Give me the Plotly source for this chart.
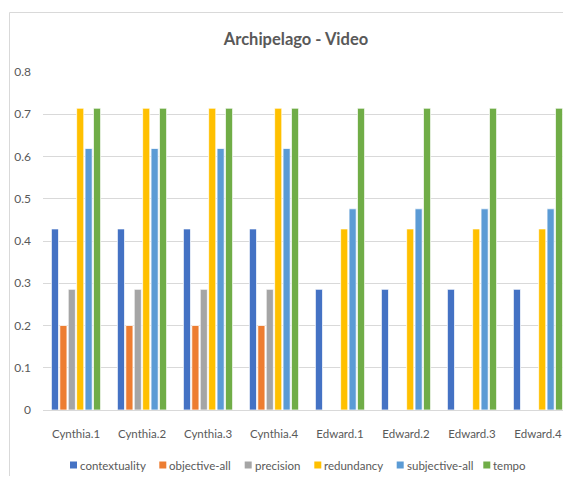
import plotly.graph_objects as go

# ---- data ----
categories = ["Cynthia.1", "Cynthia.2", "Cynthia.3", "Cynthia.4",
              "Edward.1", "Edward.2", "Edward.3", "Edward.4"]
series_names = ["contextuality", "objective-all", "precision",
                "redundancy", "subjective-all", "tempo"]
contextuality = [0.4286, 0.4286, 0.4286, 0.4286, 0.2857, 0.2857, 0.2857, 0.2857]
objective_all = [0.2, 0.2, 0.2, 0.2, 0, 0, 0, 0]
precision = [0.2857, 0.2857, 0.2857, 0.2857, 0, 0, 0, 0]
redundancy = [0.7143, 0.7143, 0.7143, 0.7143, 0.4286, 0.4286, 0.4286, 0.4286]
subjective_all = [0.619, 0.619, 0.619, 0.619, 0.4762, 0.4762, 0.4762, 0.4762]
tempo = [0.7143, 0.7143, 0.7143, 0.7143, 0.7143, 0.7143, 0.7143, 0.7143]
y_ticks = [0, 0.1, 0.2, 0.3, 0.4, 0.5, 0.6, 0.7, 0.8]
y_tick_labels = ["0", "0.1", "0.2", "0.3", "0.4", "0.5", "0.6", "0.7", "0.8"]

# ---- style ----
colors = ["#4472C4", "#ED7D31", "#A5A5A5", "#FFC000", "#5B9BD5", "#70AD47"]
FONT = "Lato, sans-serif"
TXT = "#595959"
GRID = "#D9D9D9"

OFF = 8  # page body margin
W, H = 571 - OFF, 484 - 2 * OFF
# plot area in page pixels: x 43..571, y 72..410
ML = 43 - OFF
MR = 0
MT = 72 - OFF
MB = H - (410 - OFF)
PW = W - ML - MR
PH = H - MT - MB


def px2x(px):
    # page pixel -> paper x
    return (px - OFF - ML) / PW


def py2y(py):
    # page pixel -> paper y
    return (H - MB - (py - OFF)) / PH


values = [contextuality, objective_all, precision, redundancy, subjective_all, tempo]

fig = go.Figure()
for name, vals, col in zip(series_names, values, colors):
    fig.add_trace(go.Bar(
        x=categories, y=vals, name=name,
        marker=dict(color=col, line=dict(color="white", width=0.75)),
        showlegend=False,
    ))

# manual legend (positions in page pixels)
legend_sq_px = [70, 159.3, 244.7, 314.3, 396.7, 483.3]
legend_y_px = 465
shapes = []
annotations = []
for name, col, sx in zip(series_names, colors, legend_sq_px):
    shapes.append(dict(type="rect", xref="paper", yref="paper",
                       x0=px2x(sx), x1=px2x(sx + 7),
                       y0=py2y(legend_y_px - 3.5), y1=py2y(legend_y_px + 3.5),
                       fillcolor=col, line=dict(width=0)))
    annotations.append(dict(text=name, xref="paper", yref="paper",
                            x=px2x(sx + 8), y=py2y(legend_y_px),
                            xanchor="left", yanchor="middle", showarrow=False,
                            font=dict(family=FONT, size=11.5, color=TXT)))

# chart frame
shapes.append(dict(type="rect", xref="paper", yref="paper",
                   x0=px2x(9.5), x1=px2x(W + 40),
                   y0=py2y(H + 40), y1=py2y(12.5),
                   line=dict(color=GRID, width=1), fillcolor="rgba(0,0,0,0)",
                   layer="below"))

fig.update_layout(
    width=W, height=H,
    margin=dict(l=ML, r=MR, t=MT, b=MB, autoexpand=False),
    paper_bgcolor="white", plot_bgcolor="white",
    barmode="group", bargap=0.235, bargroupgap=0.15,
    title=dict(text="<b>Archipelago - Video</b>", xref="container", yref="container",
               x=(296 - OFF) / W, y=1 - (39 - OFF) / H, xanchor="center", yanchor="middle",
               font=dict(family=FONT, size=16.5, color=TXT)),
    font=dict(family=FONT, size=12, color=TXT),
    shapes=shapes, annotations=annotations,
    showlegend=False,
)
fig.update_xaxes(showgrid=False, showline=False, ticks="", zeroline=False,
                 tickfont=dict(family=FONT, size=11.5, color=TXT),
                 ticklabelstandoff=15)
fig.update_yaxes(range=[0, 0.8], tickvals=y_ticks, ticktext=y_tick_labels,
                 showgrid=True, gridcolor=GRID, gridwidth=1,
                 zeroline=True, zerolinecolor=GRID, zerolinewidth=1,
                 showline=False, ticks="",
                 tickfont=dict(family=FONT, size=12, color=TXT),
                 ticklabelstandoff=11)

fig.write_html("out.html")
